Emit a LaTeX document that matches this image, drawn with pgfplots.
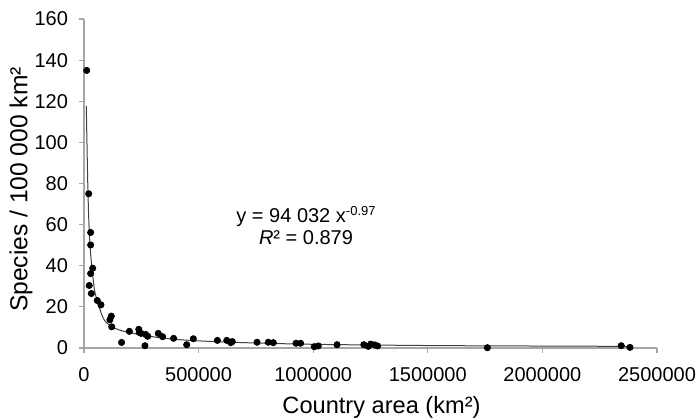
\documentclass[border=0pt]{standalone}
\usepackage{fontspec}
\setmainfont{Liberation Sans}
\usepackage{pgfplots}
\pgfplotsset{compat=1.18}

\begin{document}
\begin{tikzpicture}
\begin{axis}[
    name=ax,
    scale only axis,
    width=286.5pt,
    height=164.5pt,
    xmin=0, xmax=2500000,
    ymin=0, ymax=160,
    xtick={0,500000,1000000,1500000,2000000,2500000},
    xticklabels={0,500000,1000000,1500000,2000000,2500000},
    ytick={0,20,...,160},
    scaled ticks=false,
    /pgf/number format/.cd, fixed, 1000 sep={}, assume math mode=true,
    /pgfplots/.cd,
    axis x line*=bottom,
    axis y line*=left,
    axis line style={gray!70, line width=0.6pt},
    tick style={gray!70, line width=0.6pt},
    major tick length=2.5pt,
    xtick align=outside,
    ytick align=outside,
    tick label style={font=\fontsize{10}{12}\selectfont},
    xticklabel style={yshift=-3.5pt},
    yticklabel style={xshift=-2pt},
    xlabel={Country area (km²)},
    ylabel={Species / 100 000 km²},
    xlabel style={font=\fontsize{11.8}{14}\selectfont,
      at={(axis description cs:0.5192,-0.1793)}, anchor=center},
    ylabel style={font=\fontsize{12.3}{14}\selectfont,
      at={(axis description cs:-0.1099,0.4818)}, anchor=center},
    clip=false,
]
% fitted trend line
\addplot[black!75, line width=0.5pt, smooth, no marks] coordinates {
(10000,117.8) (17500,75) (26000,50) (43600,30) (55000,24) (84000,14.5)
(113000,11) (171000,8.2) (317000,5.2) (462000,3.7) (700000,2.6)
(1000000,1.8) (1500000,1.2) (2000000,0.95) (2382000,0.8)};
% countries
\addplot[only marks, mark=*, mark size=1.55pt, black] coordinates {
(11800,135) (20500,75) (29000,56.2) (29000,50.1) (38000,38.8) (29000,36.2)
(23000,30.4) (32000,26.5) (58000,23.1) (74000,21) (119000,15.5) (113000,13.7)
(121000,10.3) (164000,2.7) (198000,8.1) (239000,9.1) (241000,7.6) (249000,7.1)
(266000,1.1) (269000,6.6) (278000,5.7) (324000,7.1) (343000,5.5) (391000,4.7)
(448000,1.6) (477000,4.5) (582000,3.7) (623000,3.7) (640000,2.6) (647000,3.1)
(755000,2.8) (804000,2.8) (826000,2.6) (925000,2.3) (945000,2.3) (1005000,0.65)
(1022000,1.0) (1104000,1.6) (1221000,1.6) (1240000,0.8) (1251000,1.9)
(1268000,1.5) (1281000,1.0) (1760000,0.15) (2344000,1.1) (2382000,0.3)};
\node[font=\fontsize{10}{12}\selectfont] at (axis cs:968600,63.9)
  {y = 94 032 x{\fontsize{6.5}{8}\selectfont\raisebox{3.6pt}{-0.97}}};
\node[font=\fontsize{10}{12}\selectfont] at (axis cs:968600,53.5)
  {\textit{R}² = 0.879};
\end{axis}
\pgfresetboundingbox
\path[use as bounding box] ([shift={(-42pt,-35.5pt)}]ax.south west)
  rectangle ([shift={(20pt,9.5pt)}]ax.north east);
\end{tikzpicture}
\end{document}
